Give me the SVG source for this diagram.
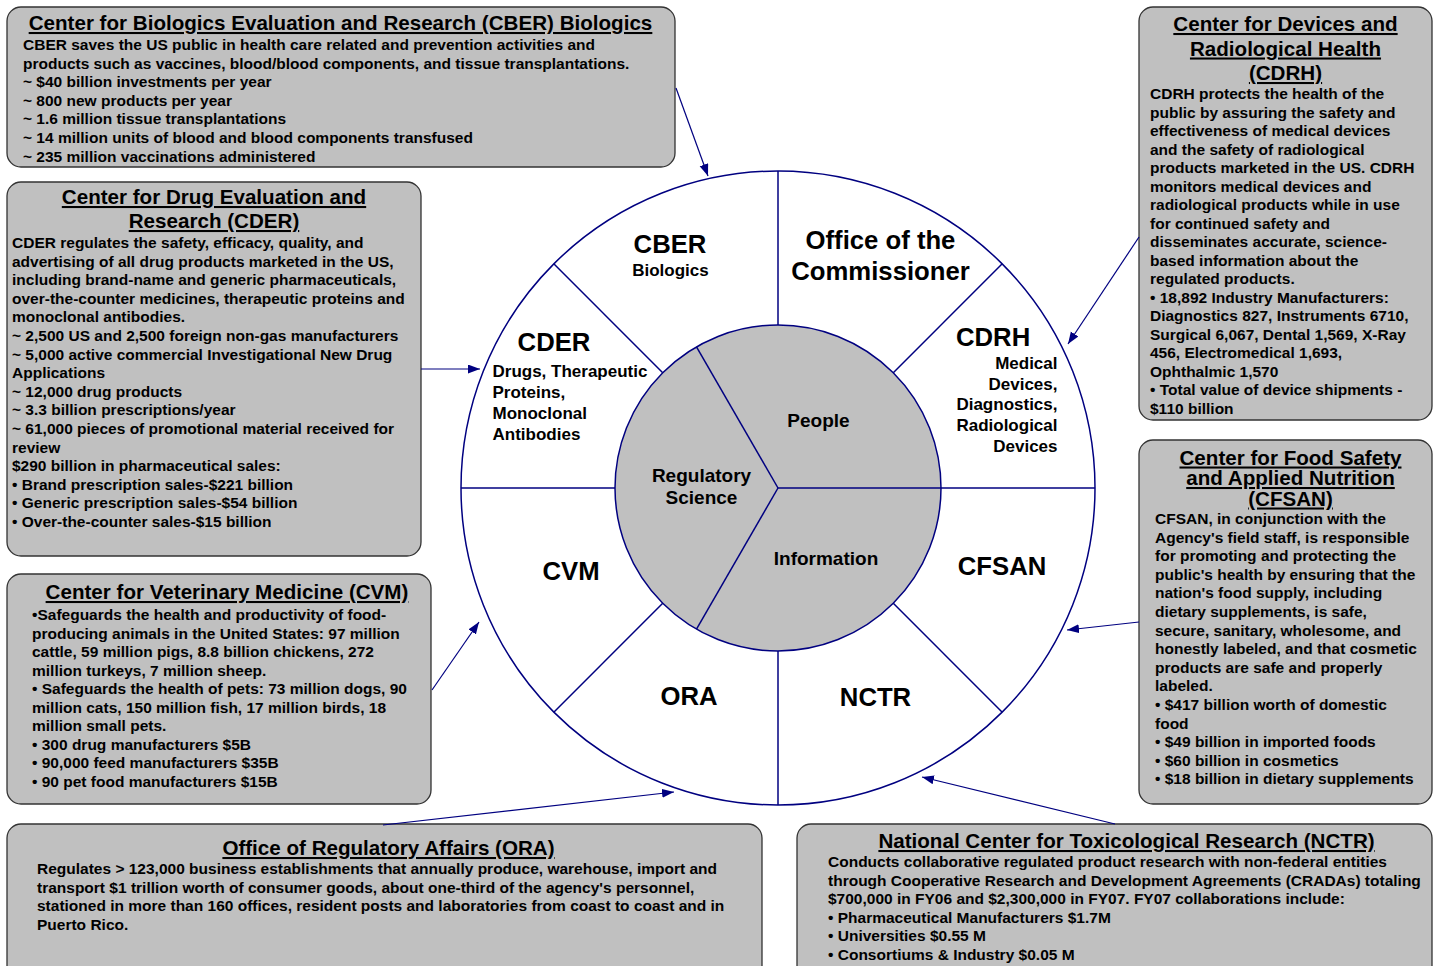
<svg xmlns="http://www.w3.org/2000/svg" width="1437" height="966" viewBox="0 0 1437 966">
<style>
text{font-family:"Liberation Sans",Arial,sans-serif;font-weight:bold;fill:#000}
.box{fill:#C0C0C0;stroke:#333;stroke-width:1.3}
.t{font-size:20.6px;text-anchor:middle;text-decoration:underline}
.b{font-size:15.5px}
.big{font-size:25.7px;text-anchor:middle}
.bigl{font-size:25.7px;text-anchor:start}
.mid{font-size:17px}
.midr{font-size:17px;text-anchor:end}
.in{font-size:19px;text-anchor:middle}
.ln{stroke:#000080;stroke-width:1.5;fill:none}
.ar{stroke:#000080;stroke-width:1.2;fill:none;marker-end:url(#ah)}
</style>
<defs>
<marker id="ah" markerUnits="userSpaceOnUse" markerWidth="14" markerHeight="10" refX="12" refY="4.5" orient="auto">
<path d="M0,0 L12,4.5 L0,9 z" fill="#000080"/>
</marker>
</defs>
<rect width="1437" height="966" fill="#fff"/>

<g id="wheel">
<circle cx="778" cy="488" r="317" fill="#fff" stroke="#000080" stroke-width="1.5"/>
<circle cx="778" cy="488" r="163" fill="#C0C0C0" stroke="#000080" stroke-width="1.5"/>
<line class="ln" x1="778" y1="171" x2="778" y2="325"/>
<line class="ln" x1="778" y1="651" x2="778" y2="805"/>
<line class="ln" x1="461" y1="488" x2="615" y2="488"/>
<line class="ln" x1="778" y1="488" x2="1095" y2="488" stroke-width="2"/>
<line class="ln" x1="553.8" y1="263.8" x2="662.7" y2="372.7"/>
<line class="ln" x1="1002.2" y1="263.8" x2="893.3" y2="372.7"/>
<line class="ln" x1="553.8" y1="712.2" x2="662.7" y2="603.3"/>
<line class="ln" x1="1002.2" y1="712.2" x2="893.3" y2="603.3"/>
<line class="ln" x1="778" y1="488" x2="696.5" y2="346.8"/>
<line class="ln" x1="778" y1="488" x2="696.5" y2="629.2"/>
<text class="big" x="670" y="253">CBER</text>
<text class="mid" x="670.5" y="276" text-anchor="middle">Biologics</text>
<text class="big" x="880.5" y="249">Office of the</text>
<text class="big" x="880.5" y="280">Commissioner</text>
<text class="big" x="554" y="351">CDER</text>
<text class="mid" x="492.5" y="377">Drugs, Therapeutic</text>
<text class="mid" x="492.5" y="398">Proteins,</text>
<text class="mid" x="492.5" y="419">Monoclonal</text>
<text class="mid" x="492.5" y="440">Antibodies</text>
<text class="bigl" x="956" y="346">CDRH</text>
<text class="midr" x="1057.5" y="369">Medical</text>
<text class="midr" x="1057.5" y="389.5">Devices,</text>
<text class="midr" x="1057.5" y="410">Diagnostics,</text>
<text class="midr" x="1057.5" y="431">Radiological</text>
<text class="midr" x="1057.5" y="451.5">Devices</text>
<text class="in" x="818.5" y="427">People</text>
<text class="in" x="701.5" y="482">Regulatory</text>
<text class="in" x="701.5" y="503.5">Science</text>
<text class="in" x="826" y="564.5">Information</text>
<text class="big" x="571" y="580">CVM</text>
<text class="big" x="1002" y="575">CFSAN</text>
<text class="big" x="689" y="704.5">ORA</text>
<text class="big" x="875.5" y="705.5">NCTR</text>
</g>

<g id="cber">
<rect class="box" x="7" y="7" width="668" height="160" rx="14"/>
<text class="t" x="340.5" y="30">Center for Biologics Evaluation and Research (CBER) Biologics</text>
<text class="b" x="23" y="50">CBER saves the US public in health care related and prevention activities and</text>
<text class="b" x="23" y="68.6">products such as vaccines, blood/blood components, and tissue transplantations.</text>
<text class="b" x="23" y="87.2">~ $40 billion investments per year</text>
<text class="b" x="23" y="105.8">~ 800 new products per year</text>
<text class="b" x="23" y="124.4">~ 1.6 million tissue transplantations</text>
<text class="b" x="23" y="143">~ 14 million units of blood and blood components transfused</text>
<text class="b" x="23" y="161.6">~ 235 million vaccinations administered</text>
</g>

<g id="cder">
<rect class="box" x="7" y="182" width="414" height="374" rx="14"/>
<text class="t" x="214" y="204">Center for Drug Evaluation and</text>
<text class="t" x="214" y="228">Research (CDER)</text>
<text class="b" x="12" y="248">CDER regulates the safety, efficacy, quality, and</text>
<text class="b" x="12" y="266.6">advertising of all drug products marketed in the US,</text>
<text class="b" x="12" y="285.2">including brand-name and generic pharmaceuticals,</text>
<text class="b" x="12" y="303.8">over-the-counter medicines, therapeutic proteins and</text>
<text class="b" x="12" y="322.4">monoclonal antibodies.</text>
<text class="b" x="12" y="341">~ 2,500 US and 2,500 foreign non-gas manufacturers</text>
<text class="b" x="12" y="359.6">~ 5,000 active commercial Investigational New Drug</text>
<text class="b" x="12" y="378.2">Applications</text>
<text class="b" x="12" y="396.8">~ 12,000 drug products</text>
<text class="b" x="12" y="415.4">~ 3.3 billion prescriptions/year</text>
<text class="b" x="12" y="434">~ 61,000 pieces of promotional material received for</text>
<text class="b" x="12" y="452.6">review</text>
<text class="b" x="12" y="471.2">$290 billion in pharmaceutical sales:</text>
<text class="b" x="12" y="489.8">• Brand prescription sales-$221 billion</text>
<text class="b" x="12" y="508.4">• Generic prescription sales-$54 billion</text>
<text class="b" x="12" y="527">• Over-the-counter sales-$15 billion</text>
</g>

<g id="cvm">
<rect class="box" x="7" y="574" width="424" height="230" rx="14"/>
<text class="t" x="227" y="599">Center for Veterinary Medicine (CVM)</text>
<text class="b" x="32" y="620">•Safeguards the health and productivity of food-</text>
<text class="b" x="32" y="638.5">producing animals in the United States: 97 million</text>
<text class="b" x="32" y="657">cattle, 59 million pigs, 8.8 billion chickens, 272</text>
<text class="b" x="32" y="675.5">million turkeys, 7 million sheep.</text>
<text class="b" x="32" y="694">• Safeguards the health of pets: 73 million dogs, 90</text>
<text class="b" x="32" y="712.5">million cats, 150 million fish, 17 million birds, 18</text>
<text class="b" x="32" y="731">million small pets.</text>
<text class="b" x="32" y="749.5">• 300 drug manufacturers $5B</text>
<text class="b" x="32" y="768">• 90,000 feed manufacturers $35B</text>
<text class="b" x="32" y="786.5">• 90 pet food manufacturers $15B</text>
</g>

<g id="ora">
<rect class="box" x="7" y="824" width="755" height="170" rx="14"/>
<text class="t" x="388.5" y="855">Office of Regulatory Affairs (ORA)</text>
<text class="b" x="37" y="874">Regulates &gt; 123,000 business establishments that annually produce, warehouse, import and</text>
<text class="b" x="37" y="892.6">transport $1 trillion worth of consumer goods, about one-third of the agency's personnel,</text>
<text class="b" x="37" y="911.2">stationed in more than 160 offices, resident posts and laboratories from coast to coast and in</text>
<text class="b" x="37" y="929.8">Puerto Rico.</text>
</g>

<g id="nctr">
<rect class="box" x="797" y="824" width="635" height="170" rx="14"/>
<text class="t" x="1126.5" y="848">National Center for Toxicological Research (NCTR)</text>
<text class="b" x="828" y="867">Conducts collaborative regulated product research with non-federal entities</text>
<text class="b" x="828" y="885.6">through Cooperative Research and Development Agreements (CRADAs) totaling</text>
<text class="b" x="828" y="904.2">$700,000 in FY06 and $2,300,000 in FY07. FY07 collaborations include:</text>
<text class="b" x="828" y="922.8">• Pharmaceutical Manufacturers $1.7M</text>
<text class="b" x="828" y="941.4">• Universities $0.55 M</text>
<text class="b" x="828" y="960">• Consortiums &amp; Industry $0.05 M</text>
</g>

<g id="cdrh">
<rect class="box" x="1139" y="7" width="293" height="413" rx="14"/>
<text class="t" x="1285.5" y="31">Center for Devices and</text>
<text class="t" x="1285.5" y="55.5">Radiological Health</text>
<text class="t" x="1285.5" y="80">(CDRH)</text>
<text class="b" x="1150" y="99">CDRH protects the health of the</text>
<text class="b" x="1150" y="117.5">public by assuring the safety and</text>
<text class="b" x="1150" y="136">effectiveness of medical devices</text>
<text class="b" x="1150" y="154.5">and the safety of radiological</text>
<text class="b" x="1150" y="173">products marketed in the US. CDRH</text>
<text class="b" x="1150" y="191.5">monitors medical devices and</text>
<text class="b" x="1150" y="210">radiological products while in use</text>
<text class="b" x="1150" y="228.5">for continued safety and</text>
<text class="b" x="1150" y="247">disseminates accurate, science-</text>
<text class="b" x="1150" y="265.5">based information about the</text>
<text class="b" x="1150" y="284">regulated products.</text>
<text class="b" x="1150" y="302.5">• 18,892 Industry Manufacturers:</text>
<text class="b" x="1150" y="321">Diagnostics 827, Instruments 6710,</text>
<text class="b" x="1150" y="339.5">Surgical 6,067, Dental 1,569, X-Ray</text>
<text class="b" x="1150" y="358">456, Electromedical 1,693,</text>
<text class="b" x="1150" y="376.5">Ophthalmic 1,570</text>
<text class="b" x="1150" y="395">• Total value of device shipments -</text>
<text class="b" x="1150" y="413.5">$110 billion</text>
</g>

<g id="cfsan">
<rect class="box" x="1139" y="440" width="293" height="364" rx="14"/>
<text class="t" x="1290.5" y="464.5">Center for Food Safety</text>
<text class="t" x="1290.5" y="485">and Applied Nutrition</text>
<text class="t" x="1290.5" y="505.5">(CFSAN)</text>
<text class="b" x="1155" y="524">CFSAN, in conjunction with the</text>
<text class="b" x="1155" y="542.6">Agency's field staff, is responsible</text>
<text class="b" x="1155" y="561.2">for promoting and protecting the</text>
<text class="b" x="1155" y="579.8">public's health by ensuring that the</text>
<text class="b" x="1155" y="598.4">nation's food supply, including</text>
<text class="b" x="1155" y="617">dietary supplements, is safe,</text>
<text class="b" x="1155" y="635.6">secure, sanitary, wholesome, and</text>
<text class="b" x="1155" y="654.2">honestly labeled, and that cosmetic</text>
<text class="b" x="1155" y="672.8">products are safe and properly</text>
<text class="b" x="1155" y="691.4">labeled.</text>
<text class="b" x="1155" y="710">• $417 billion worth of domestic</text>
<text class="b" x="1155" y="728.6">food</text>
<text class="b" x="1155" y="747.2">• $49 billion in imported foods</text>
<text class="b" x="1155" y="765.8">• $60 billion in cosmetics</text>
<text class="b" x="1155" y="784.4">• $18 billion in dietary supplements</text>
</g>

<g id="connectors">
<line class="ar" x1="676" y1="88" x2="708" y2="176"/>
<line class="ar" x1="421" y1="369" x2="480" y2="369"/>
<line class="ar" x1="1139" y1="237" x2="1068" y2="344"/>
<line class="ar" x1="1139" y1="622" x2="1067" y2="630"/>
<line class="ar" x1="432" y1="690" x2="479" y2="622"/>
<line class="ar" x1="383" y1="825" x2="674" y2="792"/>
<line class="ar" x1="1115" y1="824" x2="922" y2="777"/>
</g>
</svg>
